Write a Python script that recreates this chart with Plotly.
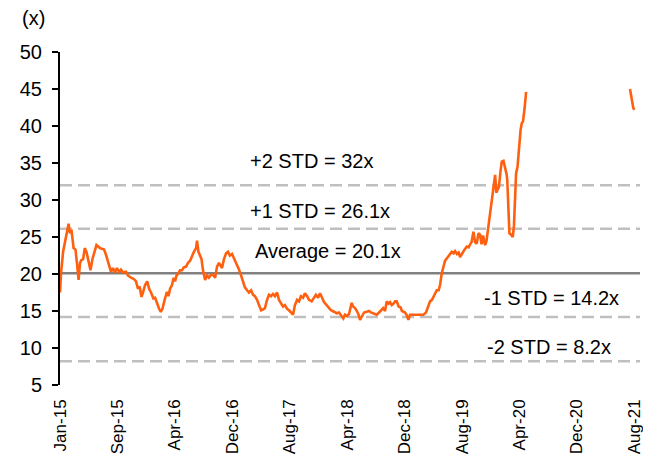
import pandas as pd
import plotly.graph_objects as go

# ---- data ----
start_date = "2015-01-01"
days_since_start = [
    0, 4, 13, 21, 29, 36, 42, 48, 57, 65, 71, 78, 84, 90, 97, 104, 111, 120, 128, 136,
    145, 153, 168, 185, 193, 199, 206, 214, 222, 231, 239, 248, 256, 264, 277, 285, 298, 311, 319, 327,
    334, 342, 348, 357, 366, 374, 382, 392, 399, 407, 416, 423, 430, 439, 449, 455, 462, 470, 477, 483,
    489, 495, 504, 512, 520, 529, 537, 546, 554, 562, 571, 575, 581, 588, 594, 600, 609, 617, 625, 634,
    642, 651, 659, 667, 674, 680, 688, 697, 705, 713, 722, 728, 734, 743, 751, 760, 768, 776, 785, 793,
    802, 810, 818, 827, 835, 844, 852, 860, 869, 877, 886, 894, 902, 911, 919, 928, 936, 944, 953, 961,
    969, 978, 986, 995, 1003, 1011, 1020, 1028, 1037, 1045, 1056, 1066, 1074, 1083, 1091, 1100, 1108, 1119, 1129, 1137,
    1150, 1161, 1171, 1179, 1189, 1196, 1205, 1213, 1224, 1230, 1238, 1246, 1253, 1259, 1268, 1276, 1287, 1297, 1305, 1318,
    1329, 1339, 1347, 1356, 1364, 1371, 1379, 1385, 1392, 1400, 1406, 1413, 1421, 1429, 1435, 1441, 1448, 1454, 1462, 1469,
    1483, 1494, 1507, 1525, 1536, 1545, 1553, 1561, 1570, 1581, 1589, 1595, 1602, 1610, 1616, 1623, 1631, 1637, 1644, 1652,
    1658, 1666, 1673, 1679, 1687, 1696, 1707, 1715, 1721, 1727, 1735, 1742, 1749, 1756, 1763, 1769, 1775, 1784, 1790, 1798,
    1805, 1812, 1819, 1826, 1831, 1835, 1842, 1849, 1854, 1861, 1868, 1874, 1877, 1882, 1886, 1893, 1900, 1905, 1910, 1914,
    1920, 1928, 1933, 1938, 1943, 1950, 1956, 1970,
    2392, 2398, 2406, 2411,
]
pe_multiple = [
    17.5, 20.0, 23.0, 24.5, 26.0, 26.8, 25.5, 26.0, 23.5, 23.3, 21.5, 19.2, 21.5, 21.9, 22.0, 23.5, 23.0, 21.5, 20.5, 22.0,
    23.2, 23.9, 23.5, 23.3, 22.6, 21.9, 21.0, 20.3, 20.8, 20.2, 20.8, 20.3, 20.6, 20.2, 20.3, 19.8, 19.5, 19.3, 19.0, 18.0,
    18.3, 16.9, 17.5, 18.5, 19.0, 18.0, 17.5, 16.7, 16.8, 16.0, 15.3, 14.9, 15.3, 16.5, 17.6, 17.0, 18.0, 18.5, 19.5, 19.0,
    19.8, 20.0, 20.5, 20.5, 20.9, 21.0, 21.5, 21.8, 22.5, 23.0, 23.5, 24.5, 23.0, 22.5, 22.0, 20.5, 19.2, 19.8, 19.5, 19.9,
    19.9, 19.5, 21.0, 21.5, 21.0, 20.8, 22.0, 22.8, 23.0, 22.5, 22.7, 22.3, 21.8, 21.2, 20.6, 19.8, 19.0, 18.2, 17.8, 17.5,
    17.8, 17.2, 17.0, 16.5, 15.8, 15.1, 15.2, 15.4, 16.5, 17.2, 17.0, 17.3, 17.0, 17.5, 16.5, 16.0, 15.6, 15.8, 15.3, 15.1,
    14.8, 14.5, 15.8, 16.5, 16.3, 17.0, 16.8, 17.4, 17.0, 16.5, 16.3, 16.8, 17.2, 16.8, 17.4, 16.8, 16.2, 15.8, 15.4, 15.1,
    14.9, 14.7, 14.8, 14.5, 14.0, 14.5, 14.3, 14.6, 16.1, 15.6, 15.4, 15.0, 14.5, 13.8, 14.3, 14.8, 14.9, 15.0, 14.8, 14.6,
    14.5, 14.8, 15.1, 15.4, 15.0, 16.3, 16.0, 16.2, 15.8, 16.0, 16.3, 16.3, 15.6, 15.5, 15.0, 14.9, 14.8, 14.5, 13.8, 14.5,
    14.5, 14.5, 14.5, 14.5, 14.8, 15.5, 16.3, 16.5, 17.2, 17.8, 17.8, 18.5, 20.1, 21.0, 21.8, 22.1, 22.5, 22.8, 23.0, 22.8,
    23.1, 22.7, 22.9, 22.3, 22.8, 23.2, 23.7, 23.6, 24.0, 24.3, 25.7, 24.3, 24.1, 25.5, 25.3, 24.0, 25.2, 23.9, 24.5, 26.4,
    28.0, 30.4, 31.5, 33.4, 31.0, 31.4, 31.8, 34.0, 35.2, 35.3, 34.5, 33.5, 32.7, 28.0, 25.5, 25.3, 25.0, 26.5, 31.0, 33.6,
    34.5, 38.1, 39.5, 40.4, 40.6, 42.5, 44.6, None,
    45.0, 44.0, 42.4, 42.2,
]
band_labels = ["+2 STD = 32x", "+1 STD = 26.1x", "Average = 20.1x", "-1 STD = 14.2x", "-2 STD = 8.2x"]
band_values = [32.0, 26.1, 20.1, 14.2, 8.2]
tick_labels = ["Jan-15", "Sep-15", "Apr-16", "Dec-16", "Aug-17", "Apr-18",
               "Dec-18", "Aug-19", "Apr-20", "Dec-20", "Aug-21"]
tick_step_days = 241

# ---- figure ----
t0 = pd.Timestamp(start_date)
dates = t0 + pd.to_timedelta(days_since_start, unit="D")
tickvals = [t0 + pd.Timedelta(days=tick_step_days * k) for k in range(len(tick_labels))]

FONT = "Liberation Sans, Arial, sans-serif"
PLOT_W = 580.0
fig = go.Figure()

# band lines
for lab, val in zip(band_labels, band_values):
    if lab.startswith("Average"):
        line = dict(color="#808080", width=2.5)
    else:
        line = dict(color="#BFBFBF", width=2.5, dash="12px,6px")
    fig.add_shape(type="line", xref="paper", x0=0, x1=1, yref="y", y0=val, y1=val,
                  line=line, layer="below")

fig.add_trace(go.Scatter(x=dates, y=pe_multiple, mode="lines",
                         line=dict(color="#FF6010", width=2.6),
                         connectgaps=False, showlegend=False, hoverinfo="skip"))

# band annotations (left edge offset in px from plot left, and axis-unit height)
ann_pos = [
    (188, 35.3), (188, 28.5), (193, 23.1), (422, 16.8), (425, 10.1),
]
for lab, (dx, yv) in zip(band_labels, ann_pos):
    fig.add_annotation(text=lab, xref="paper", x=dx / PLOT_W, xanchor="left",
                       yref="y", y=yv, yanchor="middle", showarrow=False,
                       font=dict(family=FONT, size=20, color="#000000"))

fig.add_annotation(text="(x)", xref="paper", yref="paper", x=-27 / PLOT_W,
                   y=1 + 34 / 333, xanchor="center", yanchor="middle",
                   showarrow=False, font=dict(family=FONT, size=20, color="#000000"))

fig.update_layout(
    width=651, height=470,
    margin=dict(l=52, r=19, t=44, b=93),
    plot_bgcolor="white", paper_bgcolor="white",
    font=dict(family=FONT, size=20, color="#000000"),
    xaxis=dict(type="date", range=[t0, t0 + pd.Timedelta(days=2434)],
               tickvals=tickvals, ticktext=tick_labels, tickangle=-90,
               showgrid=False, zeroline=False, showline=False, ticks="",
               ticklabelstandoff=10, tickfont=dict(size=17)),
    yaxis=dict(range=[5, 50], dtick=5, tick0=5, showgrid=False, zeroline=False,
               showline=True, linecolor="#000000", linewidth=2,
               ticks="outside", ticklen=6, tickwidth=2, tickcolor="#000000",
               ticklabelstandoff=6, tickfont=dict(size=20)),
)

fig.write_html("out.html")
